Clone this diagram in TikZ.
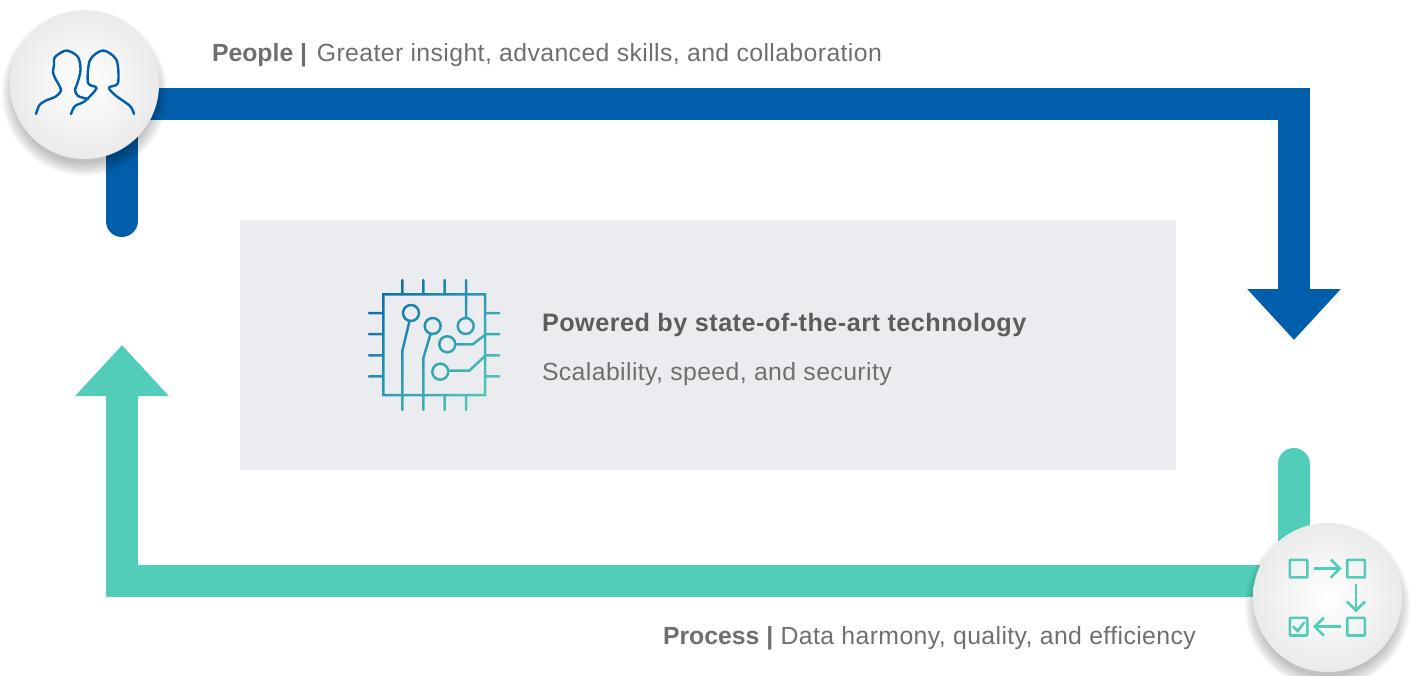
\documentclass[tikz,border=0pt]{standalone}
\usepackage{fontspec}
\setmainfont{Liberation Sans}[LetterSpace=1.6, BoldFeatures={LetterSpace=0}]
\newfontfamily\headfont{Liberation Sans Bold}[LetterSpace=1.95]
\usepackage{xcolor}
\usepackage{tikz}
\usetikzlibrary{arrows.meta}
\usetikzlibrary{fadings}
\definecolor{PeopleBlue}{HTML}{005EAA}
\definecolor{ProcessTeal}{HTML}{51CDB9}
\definecolor{PanelGrey}{HTML}{EBECF0}
\definecolor{LabelGrey}{HTML}{6F6F6F}
\definecolor{HeadGrey}{HTML}{5C5C5C}
\tikzset{
  every node/.style={inner sep=0pt, outer sep=0pt},
  bar/.style={line width=16pt, line cap=round, miter limit=10},
  badge/.style={circle, minimum size=74.5pt, inner color=white, outer color=black!8},
  label/.style={anchor=base west, text=LabelGrey, font=\fontsize{12.4}{15}\selectfont},
  procbox/.style={draw=ProcessTeal, line width=1.3pt, minimum size=8.8pt, rounded corners=0.4pt},
  procarrow/.style={draw=ProcessTeal, line width=1.3pt, -{Straight Barb[length=4.5pt,width=9pt,line width=1.3pt]}},
  faceline/.style={draw=PeopleBlue, line width=1.2pt, line cap=round, line join=round},
}

\begin{tikzfadingfrompicture}[name=chipfade, x=0.5pt, y=-0.5pt]
    \useasboundingbox (-80,-80) rectangle (80,80);
    \begin{scope}[shift={(-434,-345)}, draw=transparent!0, line width=1.25pt, line cap=round]
    \draw (383.3,294.3) rectangle (485,395);
    \foreach \x in {402.3,423.3,444.7,466} {
        \draw (\x,280) -- (\x,294.3);
        \draw (\x,395) -- (\x,410);
    }
    \foreach \y in {313,334,355.3,376.3} {
        \draw (369,\y) -- (383.3,\y);
        \draw (485,\y) -- (499.3,\y);
    }
    \draw (411,313) circle (8);
    \draw (432.7,326) circle (8);
    \draw (465.7,326) circle (8);
    \draw (447.3,344.3) circle (8);
    \draw (440.3,371.7) circle (8);
    \draw (409.5,321) -- (402.3,351) -- (402.3,395);
    \draw (430.5,334) -- (423.3,358.3) -- (423.3,395);
    \draw (466,294.3) -- (466,318);
    \draw (455.3,344.3) -- (472.7,344.3) -- (485,335);
    \draw (448.3,370.7) -- (469.3,370.7) -- (485,356);
    \end{scope}
\end{tikzfadingfrompicture}

\begin{document}
\begin{tikzpicture}[x=0.5pt, y=-0.5pt]
    \useasboundingbox (0,0) rectangle (1413,675);

    \node[fill=PanelGrey, minimum width=468pt, minimum height=125pt] at (708,345) (panel) {};

    % bars
    \coordinate (bluestart) at (121.5,221);
    \coordinate (bluecornera) at (121.5,104);
    \coordinate (bluecornerb) at (1294,104);
    \coordinate (blueend) at (1294,340);
    \coordinate (tealstart) at (1293.5,464);
    \coordinate (tealcornera) at (1293.5,581);
    \coordinate (tealcornerb) at (122,581);
    \coordinate (tealend) at (122,345);
    \draw[bar, draw=PeopleBlue, -{Triangle[length=25.5pt,width=45.2pt]}] (bluestart) -- (bluecornera) -- (bluecornerb) -- (blueend);
    \draw[bar, draw=ProcessTeal, -{Triangle[length=25.5pt,width=45.2pt]}] (tealstart) -- (tealcornera) -- (tealcornerb) -- (tealend);

    % badges
    \foreach \r in {70,71,...,83} {
        \fill[black, opacity=0.018] (84.5,93) circle (\r);
        \fill[black, opacity=0.018] (1327.5,606) circle (\r);
    }
    \node[badge] at (84.5,84.5) (people) {};
    \node[badge] at (1327.5,597.5) (process) {};

    % people icon
    \draw[faceline] plot[smooth, tension=0.5] coordinates {(36,114) (39.5,105) (47,100) (55,97) (61,90) (55,78) (53,72) (54,65) (55,57) (66.5,50.5) (78,57) (80.5,70) (77.5,83) (75,90) (78,96) (88,99)};
    \draw[faceline] plot[smooth, tension=0.5] coordinates {(71,114) (75,106) (85,101) (96.5,88) (88,83) (90,60) (103,50.5) (116.5,60) (118,83) (109,87.5) (115,95) (130,106) (134,114)};

    % process icon
    \node[procbox] at (1298.6,568.6) (boxa) {};
    \node[procbox] at (1356,568.6) (boxb) {};
    \node[procbox] at (1356,626.7) (boxc) {};
    \node[procbox] at (1298.6,626.7) (boxd) {};
    \draw[procarrow, shorten <=3.3pt, shorten >=2.8pt] (boxa) -- (boxb);
    \draw[procarrow, shorten <=3.3pt, shorten >=2.8pt] (boxb) -- (boxc);
    \draw[procarrow, shorten <=3.3pt, shorten >=2.8pt] (boxc) -- (boxd);
    \draw[draw=ProcessTeal, line width=1.3pt, line cap=round] (1293.3,626.7) -- (1297.7,631) -- (1304,622.7);

    % chip icon
    \shade[left color=PeopleBlue!90!ProcessTeal, right color=ProcessTeal, shading angle=45,
        path fading=chipfade, fit fading=false, fading transform={shift={(434,345)}}] (354,265) rectangle (514,425);

    % labels
    \node[label] at (212,61) (peoplelabel) {\textbf{People |}\hspace{1.2pt} Greater insight, advanced skills, and collaboration};
    \node[label] at (663,644) (processlabel) {\textbf{Process |} Data harmony, quality, and efficiency};
    \node[label, text=HeadGrey, font=\fontsize{12.6}{15}\headfont] at (542,331) (techhead) {Powered by state-of-the-art technology};
    \node[label] at (542,380) (techsub) {Scalability, speed, and security};
\end{tikzpicture}
\end{document}
